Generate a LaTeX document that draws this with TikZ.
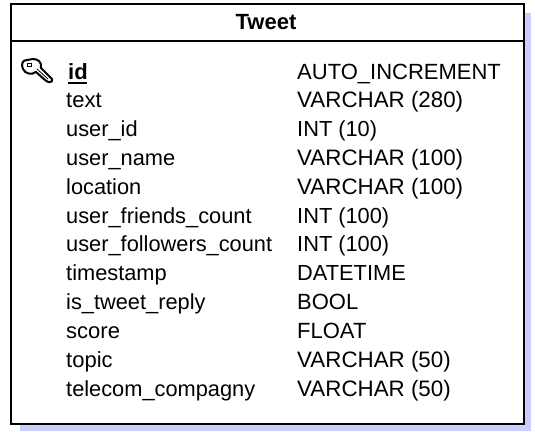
\documentclass[tikz,border=0pt]{standalone}
\usepackage{fontspec}
\setmainfont{Liberation Sans}
\definecolor{shadowblue}{RGB}{204,204,255}
\newcommand{\wide}[1]{{\fontsize{22.35}{24}\selectfont #1}}
\newcommand{\slim}[1]{{\fontsize{21.8}{24}\selectfont #1}}
\tikzset{
  x=1pt,y=-1pt,
  field/.style={anchor=base west,inner sep=0pt,font=\fontsize{22}{24}\selectfont},
  title/.style={anchor=base,inner sep=0pt,font=\fontsize{22}{24}\selectfont\bfseries},
  frame/.style={draw=black,line width=1.6pt},
}
\begin{document}
\begin{tikzpicture}
\useasboundingbox (0,0) rectangle (535,431);
\fill[white] (0,0) rectangle (535,431);
\fill[shadowblue] (20,13) rectangle (531,431);
\node[frame,fill=white,minimum width=513pt,minimum height=420pt,anchor=north west,inner sep=0pt] (box) at (10,3) {};
\coordinate (hl) at (10,41);
\coordinate (hr) at (523,41);
\draw[frame] (hl) -- (hr);
\node[title] (t) at (266,29) {Tweet};
% key icon
\begin{scope}[draw=black]
\draw[fill=white,line width=2pt] (27,60) .. controls (22,60) and (21,65) .. (23,69)
  .. controls (25,74) and (32,75) .. (36,72) -- (45,80) .. controls (48,83) and (53,83) .. (52,79)
  -- (41,68) .. controls (42,62) and (38,59) .. (33,59) -- cycle;
\draw[line width=1pt] (27,63) rectangle (31,66);
\draw[line width=0.8pt] (37,69) -- (48,79);
\end{scope}
\node[field,font=\fontsize{22}{24}\selectfont\bfseries] (id) at (68,79) {id};
\coordinate (ul) at (68,83);
\coordinate (ur) at (87,83);
\draw[line width=1.6pt] (ul) -- (ur);
\foreach \i/\a/\b in {
 0/{}/AUTO\_INCREMENT,
 1/text/\wide{VARCHAR (280)},
 2/\slim{user\_id}/\slim{INT (10)},
 3/\slim{user\_name}/\wide{VARCHAR (100)},
 4/\slim{location}/\wide{VARCHAR (100)},
 5/\slim{user\_friends\_count}/\slim{INT (100)},
 6/\slim{user\_followers\_count}/\slim{INT (100)},
 7/\slim{timestamp}/\slim{DATETIME},
 8/\slim{is\_tweet\_reply}/BOOL,
 9/score/FLOAT,
 10/topic/\wide{VARCHAR (50)},
 11/\slim{telecom\_compagny}/\wide{VARCHAR (50)}}{
  \pgfmathsetmacro{\yy}{79+28.82*\i}
  \node[field] (n\i) at (66,\yy) {\a};
  \node[field] (v\i) at (297,\yy) {\b};
}
\end{tikzpicture}
\end{document}
